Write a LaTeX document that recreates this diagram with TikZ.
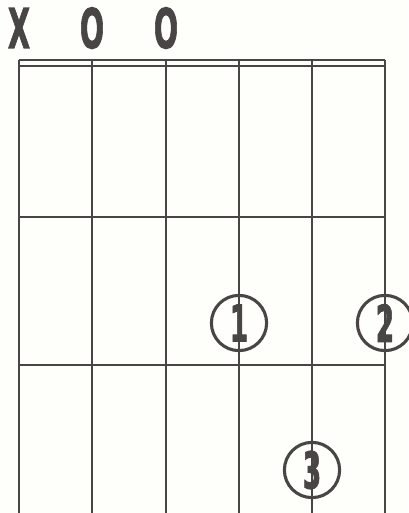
\documentclass[tikz,border=0pt]{standalone}
\usepackage{fontspec}
\setmainfont{DejaVu Sans}[BoldFont={DejaVu Sans Bold}, BoldFeatures={FakeBold=2}]
\usepackage{graphicx}
\usetikzlibrary{positioning}

\definecolor{ink}{HTML}{4A4545}
\definecolor{paper}{HTML}{FEFEFA}
\newcommand{\narrowtxt}[1]{\scalebox{0.52}[1]{\bfseries #1}}

\begin{document}
\begin{tikzpicture}[
    x=0.025cm, y=-0.025cm,
    fret/.style={ink, line width=1.5pt},
    strg/.style={ink, line width=1.5pt},
    openlbl/.style={anchor=base, inner sep=0pt, text=ink,
                    font=\fontsize{39}{39}\selectfont\bfseries},
    finger/.style={circle, draw=ink, line width=2.2pt, minimum size=1.38cm,
                   inner sep=0pt, text=ink, font=\fontsize{36}{36}\selectfont\bfseries}
]
% page
\fill[paper] (0,0) rectangle (408,513);
\useasboundingbox (0,0) rectangle (408,513);

% strings
\foreach \sx in {19, 92, 166, 239, 312, 385}
    \draw[strg] (\sx,60) -- (\sx,513);

% nut and frets
\draw[fret] (19,60)  -- (385,60);
\draw[fret] (19,66)  -- (385,66);
\draw[fret] (19,217) -- (385,217);
\draw[fret] (19,365) -- (385,365);

% open / muted strings
\node[openlbl] (m6) at (19,48)  {\narrowtxt{X}};
\node[openlbl] (o5) at (92,48)  {\narrowtxt{O}};
\node[openlbl] (o4) at (166,48) {\narrowtxt{O}};

% fingers
\node[finger] (f1) at (239,323) {\narrowtxt{1}};
\node[finger] (f2) at (385,323) {\narrowtxt{2}};
\node[finger] (f3) at (312,470) {\narrowtxt{3}};
\end{tikzpicture}
\end{document}
